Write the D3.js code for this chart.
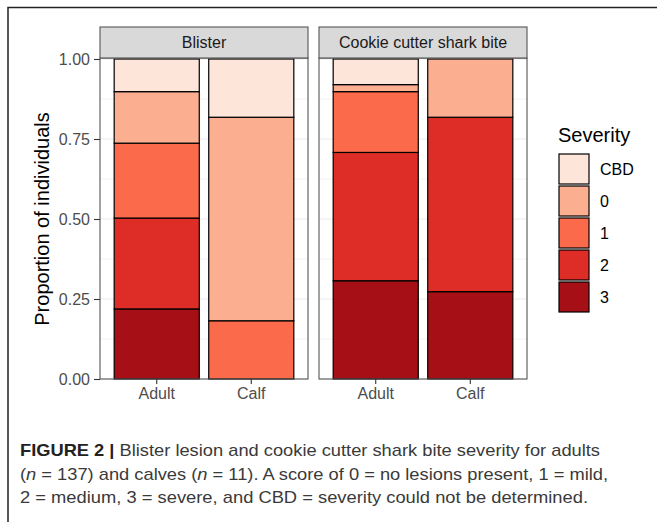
<!DOCTYPE html>
<html lang="en">
<head>
    <meta charset="UTF-8">
    <title>Blister lesion and cookie cutter shark bite severity</title>
    <script src="https://d3js.org/d3.v7.min.js"></script>
    <style>
        body {
            margin: 0;
            background: #fff;
            font-family: "Liberation Sans", Arial, sans-serif;
        }
        svg { display: block; }
        .strip-text { font-size: 16px; fill: #1a1a1a; }
        .tick-label { font-size: 16px; fill: #4d4d4d; }
        .axis-title { font-size: 20px; fill: #000; }
        .legend-label { font-size: 16px; fill: #000; }
        .caption { font-size: 17px; fill: #3a3a3a; }
    </style>
</head>
<body>
<svg id="chart" width="657" height="522"></svg>
<script>
    // data (proportion of individuals per severity score)
    const lesionTypes = ["Blister", "Cookie cutter shark bite"];
    const ageClasses = ["Adult", "Calf"];
    const severityLevels = ["CBD", "0", "1", "2", "3"];
    const severityColors = ["#fee5d9", "#fcae91", "#fb6a4a", "#de2d26", "#a50f15"];

    // values in the order of severityLevels
    const blisterAdult = [0.102, 0.161, 0.234, 0.284, 0.219];
    const blisterCalf = [0.182, 0.636, 0.182, 0, 0];
    const cookieAdult = [0.080, 0.022, 0.190, 0.401, 0.307];
    const cookieCalf = [0, 0.182, 0, 0.545, 0.273];

    const yTicks = [0, 0.25, 0.5, 0.75, 1];
    const yMinor = [0.125, 0.375, 0.625, 0.875];

    const panelData = {
        "Blister": { "Adult": blisterAdult, "Calf": blisterCalf },
        "Cookie cutter shark bite": { "Adult": cookieAdult, "Calf": cookieCalf }
    };

    const svg = d3.select("#chart");

    // layout
    const panelTop = 59, panelBottom = 379;
    const stripTop = 27;
    const panelX = [100, 319];
    const panelW = 208;

    const y = d3.scaleLinear().domain([0, 1]).range([panelBottom, panelTop]);
    const color = d3.scaleOrdinal().domain(severityLevels).range(severityColors);

    // figure frame (left and top edges visible)
    svg.append("path")
        .attr("d", "M8,522 V7.5 H657")
        .attr("fill", "none")
        .attr("stroke", "#222")
        .attr("stroke-width", 1.5);

    // stack: "3" at the bottom, "CBD" on top
    const stackKeys = severityLevels.slice().reverse();
    const stack = d3.stack().keys(stackKeys);

    lesionTypes.forEach((lesion, pi) => {
        const x0 = panelX[pi];
        const x = d3.scaleBand()
            .domain(ageClasses)
            .range([x0, x0 + panelW])
            .paddingInner(0.1)
            .paddingOuter(0.15);

        const g = svg.append("g");

        // grid
        g.selectAll(".minor").data(yMinor).enter().append("line")
            .attr("x1", x0).attr("x2", x0 + panelW)
            .attr("y1", d => y(d)).attr("y2", d => y(d))
            .attr("stroke", "#ebebeb").attr("stroke-width", 0.6);
        g.selectAll(".major").data(yTicks).enter().append("line")
            .attr("x1", x0).attr("x2", x0 + panelW)
            .attr("y1", d => y(d)).attr("y2", d => y(d))
            .attr("stroke", "#ebebeb").attr("stroke-width", 1.1);
        g.selectAll(".vmajor").data(ageClasses).enter().append("line")
            .attr("x1", d => x(d) + x.bandwidth() / 2).attr("x2", d => x(d) + x.bandwidth() / 2)
            .attr("y1", panelTop).attr("y2", panelBottom)
            .attr("stroke", "#ebebeb").attr("stroke-width", 1.1);

        // bars
        const rows = ageClasses.map(age => {
            const row = { age };
            severityLevels.forEach((s, i) => row[s] = panelData[lesion][age][i]);
            return row;
        });
        const series = stack(rows);
        series.forEach(s => {
            g.selectAll(null).data(s.filter(d => d[1] - d[0] > 0)).enter().append("rect")
                .attr("x", d => x(d.data.age))
                .attr("width", x.bandwidth())
                .attr("y", d => y(d[1]))
                .attr("height", d => y(d[0]) - y(d[1]))
                .attr("fill", color(s.key))
                .attr("stroke", "#000")
                .attr("stroke-width", 1.2);
        });

        // panel border
        g.append("rect")
            .attr("x", x0).attr("y", panelTop - 1)
            .attr("width", panelW).attr("height", panelBottom - panelTop + 1)
            .attr("fill", "none").attr("stroke", "#555").attr("stroke-width", 1.1);

        // strip
        g.append("rect")
            .attr("x", x0).attr("y", stripTop)
            .attr("width", panelW).attr("height", panelTop - 1 - stripTop)
            .attr("fill", "#d9d9d9").attr("stroke", "#555").attr("stroke-width", 1.1);
        g.append("text")
            .attr("class", "strip-text")
            .attr("x", x0 + panelW / 2)
            .attr("y", (stripTop + panelTop) / 2 + 5)
            .attr("text-anchor", "middle")
            .text(lesion);

        // x axis
        const xAxis = g.append("g")
            .attr("transform", `translate(0,${panelBottom})`)
            .call(d3.axisBottom(x).tickSize(5).tickPadding(4));
        xAxis.select(".domain").remove();
        xAxis.selectAll(".tick line").attr("stroke", "#333").attr("stroke-width", 1.1);
        xAxis.selectAll(".tick text")
            .attr("class", "tick-label")
            .attr("font-family", null).attr("font-size", null).attr("fill", null);
    });

    // y axis (left panel only)
    const yAxis = svg.append("g")
        .attr("transform", `translate(${panelX[0]},0)`)
        .call(d3.axisLeft(y).tickValues(yTicks).tickFormat(d3.format(".2f")).tickSize(6).tickPadding(4));
    yAxis.select(".domain").remove();
    yAxis.selectAll(".tick line").attr("stroke", "#333").attr("stroke-width", 1.1);
    yAxis.selectAll(".tick text")
        .attr("class", "tick-label")
        .attr("font-family", null).attr("font-size", null).attr("fill", null);

    svg.append("text")
        .attr("class", "axis-title")
        .attr("transform", `translate(49,${(panelTop + panelBottom) / 2}) rotate(-90)`)
        .attr("text-anchor", "middle")
        .text("Proportion of individuals");

    // legend
    const legend = svg.append("g").attr("transform", "translate(558,0)");
    legend.append("text")
        .attr("class", "axis-title")
        .attr("x", 0).attr("y", 142)
        .text("Severity");
    const keys = legend.selectAll(".key").data(severityLevels).enter().append("g")
        .attr("transform", (d, i) => `translate(0,${154 + i * 32})`);
    keys.append("rect")
        .attr("x", 1).attr("y", 0)
        .attr("width", 30).attr("height", 30)
        .attr("fill", d => color(d))
        .attr("stroke", "#000").attr("stroke-width", 1.2);
    keys.append("text")
        .attr("class", "legend-label")
        .attr("x", 42).attr("y", 21)
        .text(d => d);

    // caption
    const cap = svg.append("g").attr("class", "caption");
    const l1 = cap.append("text").attr("x", 20).attr("y", 456)
        .attr("textLength", 580).attr("lengthAdjust", "spacingAndGlyphs");
    l1.append("tspan").attr("font-weight", "bold").attr("fill", "#222").text("FIGURE 2 | ");
    l1.append("tspan").text("Blister lesion and cookie cutter shark bite severity for adults");

    const l2 = cap.append("text").attr("x", 20).attr("y", 479.5)
        .attr("textLength", 588).attr("lengthAdjust", "spacingAndGlyphs");
    l2.append("tspan").text("(");
    l2.append("tspan").attr("font-style", "italic").text("n");
    l2.append("tspan").text(" = 137) and calves (");
    l2.append("tspan").attr("font-style", "italic").text("n");
    l2.append("tspan").text(" = 11). A score of 0 = no lesions present, 1 = mild,");

    cap.append("text").attr("x", 20).attr("y", 503)
        .attr("textLength", 568).attr("lengthAdjust", "spacingAndGlyphs")
        .text("2 = medium, 3 = severe, and CBD = severity could not be determined.");
</script>
</body>
</html>
